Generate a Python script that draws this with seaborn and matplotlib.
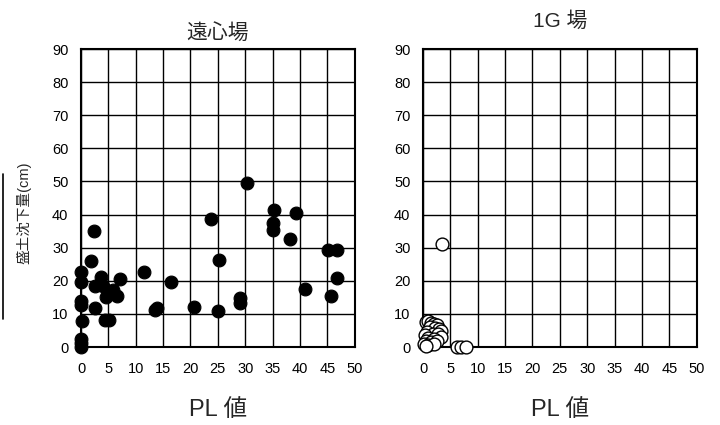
import numpy as np
import pandas as pd
import matplotlib
matplotlib.use('Agg')
import matplotlib.pyplot as plt
import seaborn as sns

# 遠心場 (centrifuge) data: PL value vs embankment settlement (cm)
cf_pl = [30.3, 23.7, 2.4, 35.3, 39.3, 35.0, 35.0, 38.1, 45.2, 46.7,
         1.8, 25.3, 0.0, 0.0, 3.7, 7.1, 11.6, 16.4, 46.7, 2.6,
         4.1, 5.8, 6.6, 4.5, 40.9, 45.7, 0.0, 0.0, 2.5, 13.6,
         13.9, 20.6, 25.0, 29.0, 29.1, 4.3, 5.1, 0.2, 0.0, 0.0, 0.0]
cf_settle = [49.5, 38.7, 35.1, 41.5, 40.5, 37.5, 35.2, 32.6, 29.4, 29.2,
             26.1, 26.4, 22.7, 19.6, 21.0, 20.5, 22.6, 19.5, 20.7, 18.3,
             18.3, 17.3, 15.5, 15.0, 17.5, 15.5, 13.8, 12.8, 11.7, 11.3,
             11.8, 12.1, 11.0, 14.7, 13.3, 8.3, 8.3, 7.8, 2.4, 1.2, 0.0]

# 1G 場 data
g1_pl = [3.4, 0.5, 1.0, 1.5, 2.0, 2.5, 1.2, 2.2, 3.0, 3.3, 0.8, 1.8, 2.8,
         3.2, 0.3, 1.0, 2.0, 0.5, 1.5, 2.5, 0.2, 1.0, 2.0, 0.6, 6.3, 7.0, 7.8]
g1_settle = [31.0, 7.5, 7.8, 7.2, 7.0, 6.5, 6.0, 5.8, 5.5, 4.8, 4.5, 4.0, 3.8,
             3.0, 3.5, 2.8, 2.5, 1.8, 1.5, 1.8, 0.8, 0.5, 0.8, 0.2, 0.0, 0.0, 0.0]

titles = ['遠心場', '1G 場']
ylabel = '盛土沈下量(cm)'
xlabel = 'PL 値'

sns.set_style('white')
plt.rcParams['font.family'] = ['Liberation Sans', 'Noto Sans CJK JP', 'DejaVu Sans']

fig = plt.figure(figsize=(7.2, 4.25), dpi=100)
ax1 = fig.add_axes([0.1125, 0.1835, 0.3801, 0.7012])
ax2 = fig.add_axes([0.5875, 0.1835, 0.3801, 0.7012])

df_cf = pd.DataFrame({'PL': cf_pl, 'S': cf_settle})
df_g1 = pd.DataFrame({'PL': g1_pl, 'S': g1_settle})

sns.scatterplot(data=df_cf, x='PL', y='S', ax=ax1, s=85, color='black',
                edgecolor='black', linewidth=0.8, clip_on=False, zorder=3)
sns.scatterplot(data=df_g1, x='PL', y='S', ax=ax2, s=85, color='white',
                edgecolor='black', linewidth=1.0, clip_on=False, zorder=3)

# タイトル位置は左右で少しずれている
title_pads = [7, 16]
for ax, title, tp in zip([ax1, ax2], titles, title_pads):
    ax.set_xlim(0, 50)
    ax.set_ylim(0, 90)
    ax.set_xticks(np.arange(0, 51, 5))
    ax.set_yticks(np.arange(0, 91, 10))
    ax.grid(True, color='black', linewidth=1.0)
    ax.set_axisbelow(True)
    for sp in ax.spines.values():
        sp.set_visible(True)
        sp.set_color('black')
        sp.set_linewidth(1.5)
    ax.tick_params(axis='both', length=0, labelsize=10.5, colors='black')
    ax.tick_params(axis='x', pad=11)
    ax.tick_params(axis='y', pad=9)
    ax.set_title(title, fontsize=15, pad=tp)
    ax.set_xlabel(xlabel, fontsize=17, labelpad=16)
    ax.set_ylabel('')

ax1.set_ylabel(ylabel, fontsize=10.5)
ax1.yaxis.set_label_coords(-0.18, 0.45)

# stray vertical line at the left edge of the original image
fig.add_artist(plt.Line2D([0.004, 0.004], [0.25, 0.59], color='black', linewidth=1.2))

plt.savefig('out.png', dpi=100)
